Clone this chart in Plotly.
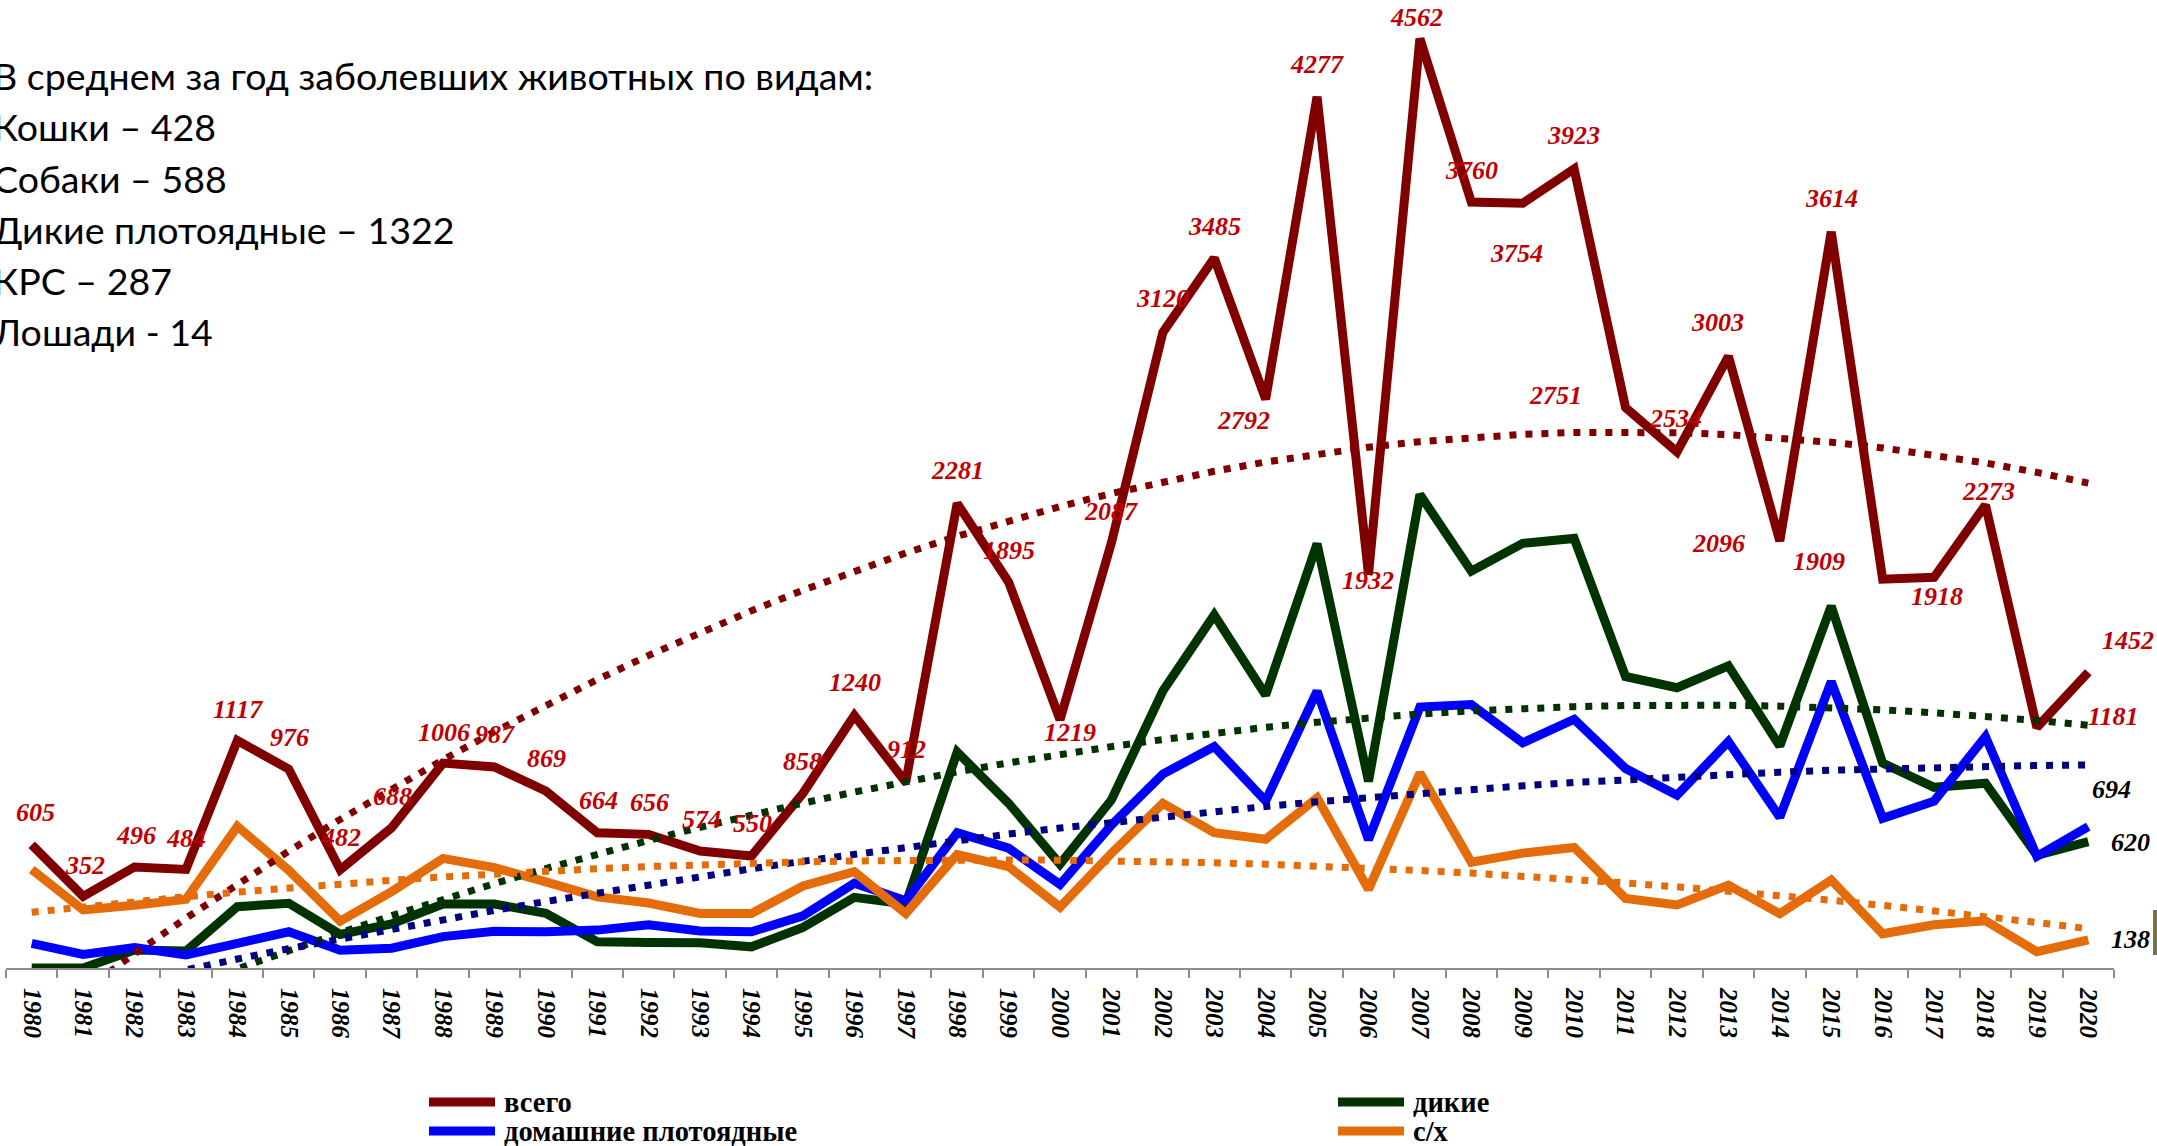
import numpy as np
import plotly.graph_objects as go

# --- data -------------------------------------------------------------
years = [1980, 1981, 1982, 1983, 1984, 1985, 1986, 1987, 1988, 1989,
         1990, 1991, 1992, 1993, 1994, 1995, 1996, 1997, 1998, 1999,
         2000, 2001, 2002, 2003, 2004, 2005, 2006, 2007, 2008, 2009,
         2010, 2011, 2012, 2013, 2014, 2015, 2016, 2017, 2018, 2019,
         2020]

total = [605, 352, 496, 484, 1117, 976, 482, 688, 1006, 987,
         869, 664, 656, 574, 550, 858, 1240, 912, 2281, 1895,
         1219, 2087, 3120, 3485, 2792, 4277, 1932, 4562, 3760, 3754,
         3923, 2751, 2534, 3003, 2096, 3614, 1909, 1918, 2273, 1181,
         1452]

wild = [0, 0, 88, 83, 301, 318, 165, 216, 314, 314,
        268, 129, 125, 124, 104, 199, 347, 314, 1060, 809,
        510, 825, 1360, 1733, 1340, 2083, 916, 2324, 1948, 2085,
        2109, 1431, 1376, 1483, 1090, 1777, 1006, 887, 907, 553,
        620]

domestic = [121, 67, 100, 64, 121, 178, 87, 97, 154, 180,
            178, 186, 212, 182, 178, 256, 416, 330, 664, 588,
            410, 702, 952, 1087, 820, 1359, 630, 1281, 1293, 1105,
            1221, 979, 848, 1111, 740, 1406, 735, 819, 1136, 548,
            694]

farm = [484, 285, 308, 337, 695, 480, 230, 375, 538, 493,
        423, 349, 319, 268, 268, 403, 473, 268, 557, 498,
        299, 563, 808, 664, 632, 835, 386, 957, 519, 564,
        592, 341, 310, 407, 266, 432, 168, 212, 232, 80,
        138]

series_names = ['всего', 'дикие', 'домашние плотоядные', 'с/х']

summary_lines = [
    'В среднем за год заболевших животных по видам:',
    'Кошки – 428',
    'Собаки – 588',
    'Дикие плотоядные – 1322',
    'КРС – 287',
    'Лошади - 14',
]

# --- layout geometry ----------------------------------------------------
W, H = 2157, 1146
L, R, T, B = 6, 43, 8, 178
PX_PER_UNIT = 0.2037
Y_MAX = (H - T - B) / PX_PER_UNIT


def px_x(px):
    return (px - L) / (W - L - R)


def px_y(py):
    return (H - B - py) / (H - T - B)


line_colors = ['#800000', '#003300', '#0000FF', '#E46C0A']
trend_colors = ['#800000', '#003300', '#000080', '#E46C0A']
all_series = [total, wild, domestic, farm]

# label offsets for "всего" (screen px: dx right, dy down)
total_label_offsets = [
    (4, -32), (2, -31), (1, -31), (0, -31), (1, -31), (1, -32), (1, -32), (1, -31), (1, -31), (1, -32),
    (1, -32), (1, -32), (1, -32), (1, -32), (1, -32), (0, -32), (1, -33), (1, -33), (0, -33), (0, -31),
    (10, 13), (0, -31), (0, -34), (0, -32), (-22, 21), (0, -32), (0, 6), (-3, -21), (0, -32), (-6, 50),
    (-1, -33), (-70, -12), (-1, -33), (-11, -34), (-61, 2), (0, -33), (-64, -18), (3, 19), (3, -13), (77, -11),
    (40, -32),
]

fig = go.Figure()

# solid series
for name, vals, color in zip(series_names, all_series, line_colors):
    fig.add_trace(go.Scatter(
        x=years, y=vals, mode='lines', name=name,
        line=dict(color=color, width=9),
        showlegend=False,
    ))

# polynomial (order 2) trendlines, as in the source spreadsheet
t = np.array(years) - years[0]
for name, vals, color in zip(series_names, all_series, trend_colors):
    coef = np.polyfit(t, np.array(vals, dtype=float), 2)
    fig.add_trace(go.Scatter(
        x=years, y=np.polyval(coef, t), mode='lines',
        line=dict(color=color, width=7, dash='7px,9px'),
        showlegend=False, hoverinfo='skip',
    ))

annotations = []
label_font = dict(family='Liberation Serif', size=26, color='#C00000', weight='bold', style='italic')
for yr, v, (dx, dy) in zip(years, total, total_label_offsets):
    annotations.append(dict(
        x=yr, y=v, text=str(v), showarrow=False,
        xshift=dx, yshift=-dy, font=label_font,
    ))

# last values of the other series
black_font = dict(family='Liberation Serif', size=26, color='black', weight='bold', style='italic')
for vals, (dx, dy) in zip([domestic, wild, farm], [(23, -37), (42, 1), (42, 0)]):
    annotations.append(dict(
        x=years[-1], y=vals[-1], text=str(vals[-1]), showarrow=False,
        xshift=dx, yshift=-dy, font=black_font,
    ))

# summary text block, one annotation per line (left edge cut, as in the source)
summary_y = [76, 127, 178, 229.5, 280.5, 331.5]
for line, ly in zip(summary_lines, summary_y):
    annotations.append(dict(
        xref='paper', yref='paper', x=px_x(0), y=px_y(ly), xshift=-9,
        xanchor='left', yanchor='middle', align='left', showarrow=False,
        text=line, font=dict(family='Lato', size=37.5, color='black'),
    ))

# manual legend
shapes = []
legend_pos = [(425, 1102), (1334, 1102), (425, 1131), (1334, 1131)]
for name, color, (lx, ly) in zip(series_names, line_colors, legend_pos):
    shapes.append(dict(
        type='line', xref='paper', yref='paper',
        x0=px_x(lx + 4), x1=px_x(lx + 70), y0=px_y(ly), y1=px_y(ly),
        line=dict(color=color, width=9),
    ))
    annotations.append(dict(
        xref='paper', yref='paper', x=px_x(lx + 77), y=px_y(ly),
        xanchor='left', yanchor='middle', showarrow=False, text=name,
        font=dict(family='Liberation Serif', size=28.5, color='black', weight='bold'),
    ))

# small picture fragment at the right edge
shapes.append(dict(
    type='rect', xref='paper', yref='paper',
    x0=px_x(2153), x1=px_x(2158), y0=px_y(955), y1=px_y(910),
    fillcolor='#77704a', line=dict(width=0),
))

fig.update_layout(
    width=W, height=H,
    margin=dict(l=L, r=R, t=T, b=B, autoexpand=False),
    paper_bgcolor='white', plot_bgcolor='white',
    showlegend=False,
    xaxis=dict(
        range=[1979.5, 2020.5], automargin=False,
        tickvals=years, ticktext=[str(y) for y in years],
        tickangle=90, ticks='', showgrid=False, zeroline=False,
        showline=True, linecolor='#8c8c8c', linewidth=2,
        ticklabelstandoff=13,
        tickfont=dict(family='Liberation Serif', size=25, color='black', weight='bold', style='italic'),
        minor=dict(tick0=1979.5, dtick=1, ticks='outside', ticklen=8,
                   tickcolor='#8c8c8c', tickwidth=1.5, showgrid=False),
    ),
    yaxis=dict(range=[0, Y_MAX], visible=False, automargin=False,
               showgrid=False, zeroline=False),
    annotations=annotations,
    shapes=shapes,
)

# the page body has a default 8px margin; drop it so the figure fills the window
fig.write_html('out.html', config={'displayModeBar': False},
               post_script="document.body.style.margin='0';")
